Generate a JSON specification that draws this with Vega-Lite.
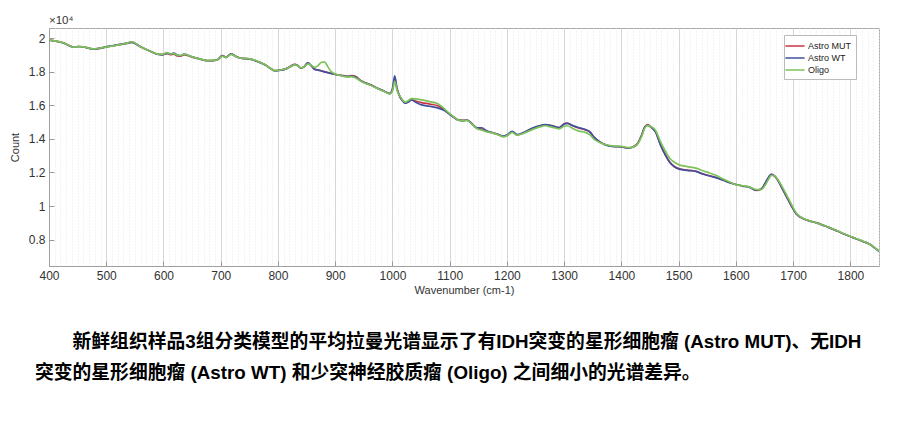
{
  "$schema": "https://vega.github.io/schema/vega-lite/v6.json",
  "autosize": {"type": "none"},
  "width": 830,
  "height": 238,
  "padding": {"left": 49, "top": 28, "right": 18, "bottom": 164},
  "background": "white",
  "config": {"view": {"stroke": "#a8a8a8", "strokeWidth": 1}, "font": "Liberation Sans", "axis": {"labelOverlap": false}},
  "title": {
    "text": ["\u200b　　新鲜组织样品3组分类模型的平均拉曼光谱显示了有IDH突变的星形细胞瘤 (Astro MUT)、无IDH", "突变的星形细胞瘤 (Astro WT) 和少突神经胶质瘤 (Oligo) 之间细小的光谱差异。"],
    "orient": "bottom",
    "anchor": "start",
    "frame": "group",
    "dx": -14,
    "offset": 38,
    "font": "Liberation Sans, Noto Sans CJK SC",
    "fontSize": 18.8,
    "fontWeight": "bold",
    "color": "#000000",
    "lineHeight": 31
  },
  "layer": [
    {
      "data": {"values": [
        {"wn":400,"Astro MUT":19880,"Astro WT":19870,"Oligo":19890},
        {"wn":412,"Astro MUT":19820,"Astro WT":19810,"Oligo":19820},
        {"wn":425,"Astro MUT":19720,"Astro WT":19710,"Oligo":19720},
        {"wn":435,"Astro MUT":19560,"Astro WT":19550,"Oligo":19560},
        {"wn":443,"Astro MUT":19470,"Astro WT":19460,"Oligo":19460},
        {"wn":452,"Astro MUT":19500,"Astro WT":19500,"Oligo":19490},
        {"wn":460,"Astro MUT":19480,"Astro WT":19470,"Oligo":19480},
        {"wn":470,"Astro MUT":19400,"Astro WT":19390,"Oligo":19400},
        {"wn":478,"Astro MUT":19350,"Astro WT":19340,"Oligo":19360},
        {"wn":490,"Astro MUT":19400,"Astro WT":19400,"Oligo":19410},
        {"wn":501,"Astro MUT":19480,"Astro WT":19490,"Oligo":19470},
        {"wn":513,"Astro MUT":19550,"Astro WT":19560,"Oligo":19540},
        {"wn":525,"Astro MUT":19620,"Astro WT":19630,"Oligo":19610},
        {"wn":535,"Astro MUT":19680,"Astro WT":19680,"Oligo":19690},
        {"wn":545,"Astro MUT":19760,"Astro WT":19750,"Oligo":19780},
        {"wn":552,"Astro MUT":19650,"Astro WT":19640,"Oligo":19660},
        {"wn":560,"Astro MUT":19480,"Astro WT":19480,"Oligo":19480},
        {"wn":575,"Astro MUT":19250,"Astro WT":19250,"Oligo":19250},
        {"wn":589,"Astro MUT":19050,"Astro WT":19040,"Oligo":19060},
        {"wn":598,"Astro MUT":19020,"Astro WT":19000,"Oligo":19030},
        {"wn":606,"Astro MUT":19080,"Astro WT":19110,"Oligo":19130},
        {"wn":612,"Astro MUT":19010,"Astro WT":19040,"Oligo":19050},
        {"wn":618,"Astro MUT":19050,"Astro WT":19100,"Oligo":19080},
        {"wn":624,"Astro MUT":18940,"Astro WT":18990,"Oligo":18980},
        {"wn":630,"Astro MUT":18920,"Astro WT":18950,"Oligo":18960},
        {"wn":636,"Astro MUT":19020,"Astro WT":19050,"Oligo":19040},
        {"wn":642,"Astro MUT":18960,"Astro WT":18990,"Oligo":19000},
        {"wn":650,"Astro MUT":18870,"Astro WT":18880,"Oligo":18880},
        {"wn":659,"Astro MUT":18800,"Astro WT":18790,"Oligo":18800},
        {"wn":668,"Astro MUT":18720,"Astro WT":18710,"Oligo":18720},
        {"wn":677,"Astro MUT":18660,"Astro WT":18650,"Oligo":18660},
        {"wn":686,"Astro MUT":18660,"Astro WT":18660,"Oligo":18670},
        {"wn":694,"Astro MUT":18700,"Astro WT":18710,"Oligo":18700},
        {"wn":703,"Astro MUT":18950,"Astro WT":18960,"Oligo":18920},
        {"wn":709,"Astro MUT":18850,"Astro WT":18850,"Oligo":18850},
        {"wn":718,"Astro MUT":19050,"Astro WT":19060,"Oligo":19030},
        {"wn":726,"Astro MUT":18920,"Astro WT":18920,"Oligo":18910},
        {"wn":735,"Astro MUT":18800,"Astro WT":18800,"Oligo":18800},
        {"wn":745,"Astro MUT":18780,"Astro WT":18770,"Oligo":18790},
        {"wn":753,"Astro MUT":18740,"Astro WT":18730,"Oligo":18750},
        {"wn":765,"Astro MUT":18600,"Astro WT":18590,"Oligo":18610},
        {"wn":776,"Astro MUT":18440,"Astro WT":18430,"Oligo":18440},
        {"wn":786,"Astro MUT":18220,"Astro WT":18210,"Oligo":18230},
        {"wn":794,"Astro MUT":18060,"Astro WT":18050,"Oligo":18060},
        {"wn":805,"Astro MUT":18100,"Astro WT":18090,"Oligo":18100},
        {"wn":815,"Astro MUT":18180,"Astro WT":18180,"Oligo":18190},
        {"wn":822,"Astro MUT":18320,"Astro WT":18300,"Oligo":18300},
        {"wn":829,"Astro MUT":18440,"Astro WT":18420,"Oligo":18400},
        {"wn":835,"Astro MUT":18360,"Astro WT":18350,"Oligo":18340},
        {"wn":840,"Astro MUT":18220,"Astro WT":18220,"Oligo":18230},
        {"wn":846,"Astro MUT":18300,"Astro WT":18300,"Oligo":18290},
        {"wn":852,"Astro MUT":18520,"Astro WT":18530,"Oligo":18470},
        {"wn":858,"Astro MUT":18360,"Astro WT":18360,"Oligo":18380},
        {"wn":864,"Astro MUT":18150,"Astro WT":18140,"Oligo":18250},
        {"wn":870,"Astro MUT":18100,"Astro WT":18090,"Oligo":18360},
        {"wn":876,"Astro MUT":18050,"Astro WT":18040,"Oligo":18560},
        {"wn":881,"Astro MUT":18000,"Astro WT":17990,"Oligo":18580},
        {"wn":887,"Astro MUT":17950,"Astro WT":17940,"Oligo":18300},
        {"wn":893,"Astro MUT":17900,"Astro WT":17890,"Oligo":18000},
        {"wn":905,"Astro MUT":17800,"Astro WT":17800,"Oligo":17800},
        {"wn":915,"Astro MUT":17760,"Astro WT":17750,"Oligo":17720},
        {"wn":922,"Astro MUT":17720,"Astro WT":17710,"Oligo":17680},
        {"wn":928,"Astro MUT":17770,"Astro WT":17740,"Oligo":17700},
        {"wn":935,"Astro MUT":17720,"Astro WT":17680,"Oligo":17640},
        {"wn":945,"Astro MUT":17460,"Astro WT":17450,"Oligo":17430},
        {"wn":951,"Astro MUT":17360,"Astro WT":17350,"Oligo":17330},
        {"wn":963,"Astro MUT":17200,"Astro WT":17190,"Oligo":17180},
        {"wn":975,"Astro MUT":17000,"Astro WT":16990,"Oligo":16980},
        {"wn":985,"Astro MUT":16850,"Astro WT":16850,"Oligo":16840},
        {"wn":995,"Astro MUT":16700,"Astro WT":16690,"Oligo":16670},
        {"wn":1000,"Astro MUT":16900,"Astro WT":17000,"Oligo":16850},
        {"wn":1004,"Astro MUT":17580,"Astro WT":17750,"Oligo":17420},
        {"wn":1008,"Astro MUT":16950,"Astro WT":17000,"Oligo":16900},
        {"wn":1013,"Astro MUT":16520,"Astro WT":16500,"Oligo":16540},
        {"wn":1018,"Astro MUT":16280,"Astro WT":16250,"Oligo":16300},
        {"wn":1022,"Astro MUT":16150,"Astro WT":16120,"Oligo":16180},
        {"wn":1028,"Astro MUT":16220,"Astro WT":16190,"Oligo":16280},
        {"wn":1033,"Astro MUT":16350,"Astro WT":16320,"Oligo":16400},
        {"wn":1040,"Astro MUT":16250,"Astro WT":16190,"Oligo":16380},
        {"wn":1051,"Astro MUT":16160,"Astro WT":16020,"Oligo":16320},
        {"wn":1065,"Astro MUT":16070,"Astro WT":15940,"Oligo":16220},
        {"wn":1080,"Astro MUT":15960,"Astro WT":15830,"Oligo":16080},
        {"wn":1090,"Astro MUT":15750,"Astro WT":15700,"Oligo":15820},
        {"wn":1098,"Astro MUT":15530,"Astro WT":15500,"Oligo":15560},
        {"wn":1107,"Astro MUT":15300,"Astro WT":15280,"Oligo":15310},
        {"wn":1115,"Astro MUT":15130,"Astro WT":15120,"Oligo":15120},
        {"wn":1124,"Astro MUT":15100,"Astro WT":15090,"Oligo":15090},
        {"wn":1130,"Astro MUT":15120,"Astro WT":15110,"Oligo":15100},
        {"wn":1139,"Astro MUT":14900,"Astro WT":14890,"Oligo":14880},
        {"wn":1148,"Astro MUT":14620,"Astro WT":14650,"Oligo":14600},
        {"wn":1156,"Astro MUT":14580,"Astro WT":14660,"Oligo":14520},
        {"wn":1164,"Astro MUT":14450,"Astro WT":14480,"Oligo":14420},
        {"wn":1174,"Astro MUT":14370,"Astro WT":14380,"Oligo":14360},
        {"wn":1185,"Astro MUT":14250,"Astro WT":14260,"Oligo":14230},
        {"wn":1194,"Astro MUT":14140,"Astro WT":14160,"Oligo":14120},
        {"wn":1200,"Astro MUT":14200,"Astro WT":14230,"Oligo":14180},
        {"wn":1209,"Astro MUT":14420,"Astro WT":14450,"Oligo":14380},
        {"wn":1218,"Astro MUT":14240,"Astro WT":14250,"Oligo":14220},
        {"wn":1230,"Astro MUT":14380,"Astro WT":14390,"Oligo":14340},
        {"wn":1244,"Astro MUT":14620,"Astro WT":14630,"Oligo":14550},
        {"wn":1255,"Astro MUT":14750,"Astro WT":14760,"Oligo":14680},
        {"wn":1267,"Astro MUT":14840,"Astro WT":14850,"Oligo":14780},
        {"wn":1278,"Astro MUT":14780,"Astro WT":14790,"Oligo":14700},
        {"wn":1291,"Astro MUT":14660,"Astro WT":14670,"Oligo":14600},
        {"wn":1300,"Astro MUT":14900,"Astro WT":14880,"Oligo":14750},
        {"wn":1305,"Astro MUT":14940,"Astro WT":14920,"Oligo":14780},
        {"wn":1315,"Astro MUT":14780,"Astro WT":14790,"Oligo":14620},
        {"wn":1326,"Astro MUT":14640,"Astro WT":14660,"Oligo":14460},
        {"wn":1337,"Astro MUT":14540,"Astro WT":14550,"Oligo":14380},
        {"wn":1345,"Astro MUT":14400,"Astro WT":14410,"Oligo":14240},
        {"wn":1352,"Astro MUT":14100,"Astro WT":14100,"Oligo":13980},
        {"wn":1361,"Astro MUT":13850,"Astro WT":13850,"Oligo":13800},
        {"wn":1370,"Astro MUT":13680,"Astro WT":13670,"Oligo":13680},
        {"wn":1384,"Astro MUT":13560,"Astro WT":13550,"Oligo":13580},
        {"wn":1400,"Astro MUT":13530,"Astro WT":13520,"Oligo":13550},
        {"wn":1413,"Astro MUT":13460,"Astro WT":13450,"Oligo":13480},
        {"wn":1420,"Astro MUT":13520,"Astro WT":13510,"Oligo":13510},
        {"wn":1428,"Astro MUT":13720,"Astro WT":13700,"Oligo":13680},
        {"wn":1435,"Astro MUT":14200,"Astro WT":14180,"Oligo":14120},
        {"wn":1441,"Astro MUT":14720,"Astro WT":14700,"Oligo":14650},
        {"wn":1446,"Astro MUT":14850,"Astro WT":14800,"Oligo":14800},
        {"wn":1452,"Astro MUT":14700,"Astro WT":14690,"Oligo":14720},
        {"wn":1460,"Astro MUT":14400,"Astro WT":14380,"Oligo":14480},
        {"wn":1468,"Astro MUT":13680,"Astro WT":13650,"Oligo":13850},
        {"wn":1477,"Astro MUT":13040,"Astro WT":13020,"Oligo":13260},
        {"wn":1484,"Astro MUT":12640,"Astro WT":12620,"Oligo":12860},
        {"wn":1492,"Astro MUT":12370,"Astro WT":12350,"Oligo":12620},
        {"wn":1501,"Astro MUT":12220,"Astro WT":12200,"Oligo":12450},
        {"wn":1515,"Astro MUT":12140,"Astro WT":12120,"Oligo":12350},
        {"wn":1530,"Astro MUT":12070,"Astro WT":12060,"Oligo":12260},
        {"wn":1542,"Astro MUT":11920,"Astro WT":11910,"Oligo":12100},
        {"wn":1554,"Astro MUT":11800,"Astro WT":11790,"Oligo":11970},
        {"wn":1565,"Astro MUT":11700,"Astro WT":11690,"Oligo":11830},
        {"wn":1577,"Astro MUT":11550,"Astro WT":11550,"Oligo":11620},
        {"wn":1592,"Astro MUT":11370,"Astro WT":11360,"Oligo":11390},
        {"wn":1600,"Astro MUT":11280,"Astro WT":11280,"Oligo":11270},
        {"wn":1612,"Astro MUT":11200,"Astro WT":11190,"Oligo":11210},
        {"wn":1624,"Astro MUT":11120,"Astro WT":11110,"Oligo":11130},
        {"wn":1636,"Astro MUT":10930,"Astro WT":10950,"Oligo":10980},
        {"wn":1644,"Astro MUT":11000,"Astro WT":11010,"Oligo":10980},
        {"wn":1653,"Astro MUT":11470,"Astro WT":11480,"Oligo":11350},
        {"wn":1658,"Astro MUT":11750,"Astro WT":11760,"Oligo":11650},
        {"wn":1662,"Astro MUT":11880,"Astro WT":11890,"Oligo":11830},
        {"wn":1667,"Astro MUT":11800,"Astro WT":11810,"Oligo":11800},
        {"wn":1671,"Astro MUT":11650,"Astro WT":11660,"Oligo":11680},
        {"wn":1680,"Astro MUT":11100,"Astro WT":11120,"Oligo":11200},
        {"wn":1688,"Astro MUT":10580,"Astro WT":10600,"Oligo":10700},
        {"wn":1697,"Astro MUT":10000,"Astro WT":10010,"Oligo":10100},
        {"wn":1706,"Astro MUT":9520,"Astro WT":9520,"Oligo":9560},
        {"wn":1718,"Astro MUT":9250,"Astro WT":9250,"Oligo":9260},
        {"wn":1730,"Astro MUT":9100,"Astro WT":9100,"Oligo":9100},
        {"wn":1741,"Astro MUT":9000,"Astro WT":9000,"Oligo":8990},
        {"wn":1760,"Astro MUT":8760,"Astro WT":8760,"Oligo":8770},
        {"wn":1776,"Astro MUT":8530,"Astro WT":8530,"Oligo":8540},
        {"wn":1790,"Astro MUT":8320,"Astro WT":8320,"Oligo":8330},
        {"wn":1805,"Astro MUT":8120,"Astro WT":8120,"Oligo":8130},
        {"wn":1820,"Astro MUT":7920,"Astro WT":7920,"Oligo":7940},
        {"wn":1834,"Astro MUT":7720,"Astro WT":7720,"Oligo":7730},
        {"wn":1842,"Astro MUT":7520,"Astro WT":7520,"Oligo":7530},
        {"wn":1850,"Astro MUT":7300,"Astro WT":7300,"Oligo":7310}
      ]},
      "transform": [{"fold": ["Astro MUT", "Astro WT", "Oligo"], "as": ["group", "count"]}],
      "mark": {"type": "line", "strokeWidth": 1.7, "interpolate": "monotone", "clip": true},
      "encoding": {
        "x": {
          "field": "wn", "type": "quantitative",
          "scale": {"domain": [400, 1850], "nice": false, "zero": false},
          "axis": {
            "title": "Wavenumber (cm-1)",
            "titleFontSize": 11, "titleFontWeight": "normal", "titleColor": "#333333", "titlePadding": 3,
            "labelFontSize": 12, "labelColor": "#333333", "labelPadding": 9,
            "labelExpr": "datum.value % 100 === 0 ? datum.value : ''",
            "labelOverlap": false, "labelBound": false, "labelFlush": false,
            "tickCount": 145,
            "ticks": true,
            "tickSize": -5,
            "tickColor": "#999999",
            "tickOpacity": {"condition": {"test": "datum.value % 100 === 0", "value": 1}, "value": 0},
            "grid": true,
            "gridColor": {"condition": {"test": "datum.value % 100 === 0", "value": "#d6d6d6"}, "value": "#e6e6e6"},
            "gridDash": {"condition": {"test": "datum.value % 100 === 0", "value": []}, "value": [1, 2]},
            "gridWidth": 1,
            "domainColor": "#a0a0a0"
          }
        },
        "y": {
          "field": "count", "type": "quantitative",
          "scale": {"domain": [6430, 20600], "nice": false, "zero": false},
          "axis": {
            "title": "Count",
            "titleFontSize": 11, "titleFontWeight": "normal", "titleColor": "#333333", "titlePadding": 8,
            "labelFontSize": 12, "labelColor": "#333333", "labelPadding": 9,
            "labelOverlap": false,
            "values": [8000, 10000, 12000, 14000, 16000, 18000, 20000],
            "tickCount": 20,
            "labelExpr": "format(datum.value / 10000, '~g')",
            "ticks": true,
            "tickSize": -5,
            "tickColor": "#999999",
            "grid": false,
            "domainColor": "#a0a0a0"
          }
        },
        "color": {
          "field": "group", "type": "nominal",
          "scale": {"domain": ["Astro MUT", "Astro WT", "Oligo"], "range": ["#cc3344", "#40509e", "#7cc35a"]},
          "legend": {
            "orient": "none", "legendX": 735, "legendY": 7,
            "title": null,
            "fillColor": "white", "strokeColor": "#bbbbbb", "padding": 4,
            "symbolType": "M-1.6,0H1.6", "symbolSize": 144, "symbolStrokeWidth": 1.5,
            "labelFontSize": 9, "labelColor": "#222222", "rowPadding": 0, "labelOffset": 6
          }
        }
      }
    },
    {
      "data": {"values": [{"label": "×10⁴", "wn": 400, "count": 20600}]},
      "mark": {"type": "text", "align": "left", "baseline": "bottom", "dy": -2, "fontSize": 11.5, "color": "#333333"},
      "encoding": {
        "x": {"field": "wn", "type": "quantitative"},
        "y": {"field": "count", "type": "quantitative"},
        "text": {"field": "label"}
      }
    }
  ]
}
